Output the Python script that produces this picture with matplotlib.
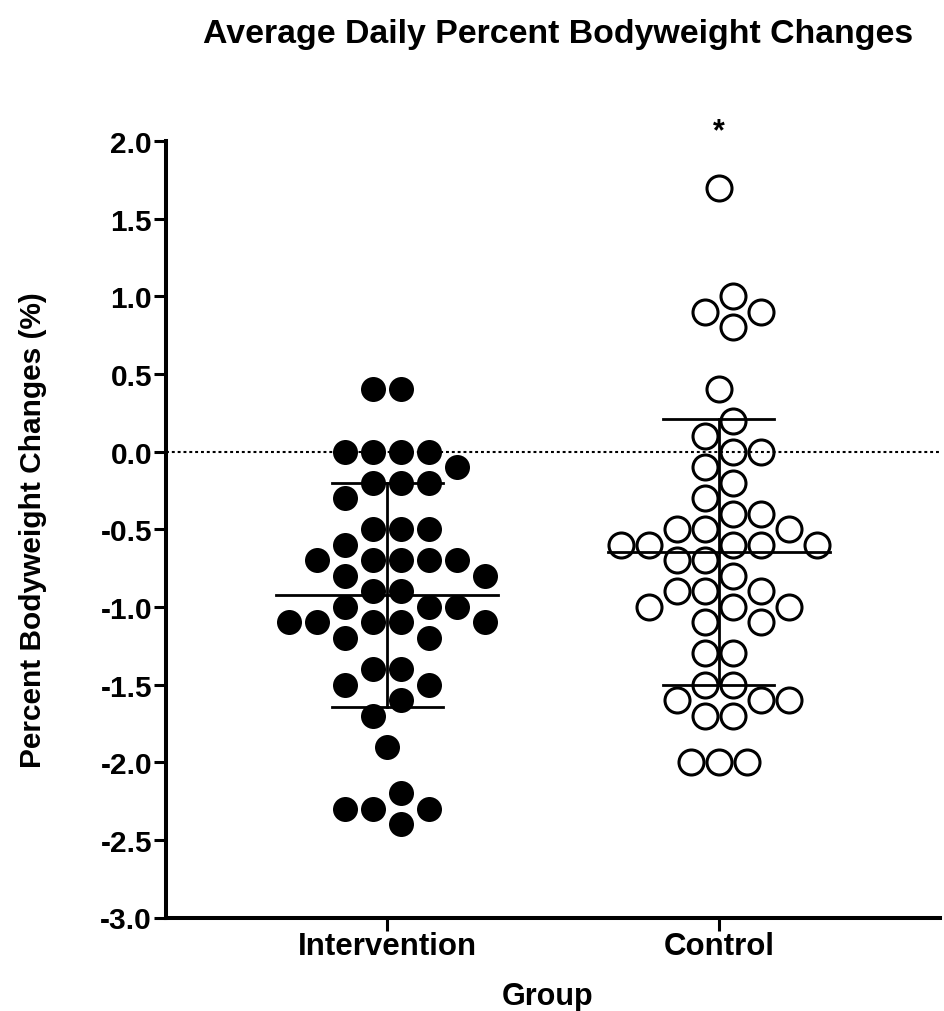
import numpy as np
import matplotlib
matplotlib.use('Agg')
import matplotlib.pyplot as plt
from matplotlib.ticker import FormatStrFormatter

plt.rcParams['font.family'] = 'Liberation Sans'
plt.rcParams['font.weight'] = 'bold'
plt.rcParams['axes.unicode_minus'] = False

# data (percent per day)
groups = ['Intervention', 'Control']
intervention = [0.4, 0.4,
                0.0, 0.0, 0.0, 0.0,
                -0.1,
                -0.2, -0.2, -0.2,
                -0.3,
                -0.5, -0.5, -0.5,
                -0.6,
                -0.7, -0.7, -0.7, -0.7, -0.7,
                -0.8, -0.8,
                -0.9, -0.9,
                -1.0, -1.0, -1.0,
                -1.1, -1.1, -1.1, -1.1, -1.1,
                -1.2, -1.2,
                -1.4, -1.4,
                -1.5, -1.5,
                -1.6,
                -1.7,
                -1.9,
                -2.2,
                -2.3, -2.3, -2.3,
                -2.4]
control = [1.7,
           1.0,
           0.9, 0.9,
           0.8,
           0.4,
           0.2,
           0.1,
           0.0, 0.0,
           -0.1,
           -0.2,
           -0.3,
           -0.4, -0.4,
           -0.5, -0.5, -0.5,
           -0.6, -0.6, -0.6, -0.6, -0.6,
           -0.7, -0.7,
           -0.8,
           -0.9, -0.9, -0.9,
           -1.0, -1.0, -1.0,
           -1.1, -1.1,
           -1.3, -1.3,
           -1.5, -1.5,
           -1.6, -1.6, -1.6,
           -1.7, -1.7,
           -2.0, -2.0, -2.0]
yticks = np.arange(-3.0, 2.01, 0.5)


def swarm(values, step=0.1):
    # simple grid swarm: each value sits in a row, points take the free
    # slot nearest the centre that is not used in the same or adjacent row
    rows = np.round(np.array(values) / step).astype(int)
    counts = {}
    for r in rows:
        counts[r] = counts.get(r, 0) + 1
    used = {}
    iso_seen = {}
    out = []
    cand = []
    for k in range(12):
        cand += [k + 0.5, -(k + 0.5)]
    for r in rows:
        if counts.get(r - 1, 0) == 0 and counts.get(r + 1, 0) == 0:
            i = iso_seen.get(r, 0)
            iso_seen[r] = i + 1
            out.append(i - (counts[r] - 1) / 2.0)
            continue
        blocked = used.get(r, set()) | used.get(r - 1, set()) | used.get(r + 1, set())
        for s in cand:
            if s not in blocked:
                break
        used.setdefault(r, set()).add(s)
        out.append(s)
    return np.array(out)


slot = 0.0843  # horizontal spacing of one dot in x units

fig = plt.figure(figsize=(9.45, 10.12), dpi=100)
ax = fig.add_axes([166 / 945, 1 - 918.5 / 1012, (940 - 166) / 945, (918.5 - 142) / 1012])

for i, vals in enumerate([intervention, control]):
    vals = np.array(vals)
    x = i + swarm(vals) * slot
    if i == 0:
        ax.plot(x, vals, 'o', ms=18, mfc='black', mec='black', mew=0, clip_on=False, zorder=3)
    else:
        ax.plot(x, vals, 'o', ms=18, mfc='none', mec='black', mew=2.2, clip_on=False, zorder=3)
    m = vals.mean()
    sd = vals.std(ddof=1)
    ax.plot([i - 0.334, i + 0.334], [m, m], color='black', lw=2, zorder=4)
    ax.plot([i - 0.167, i + 0.167], [m + sd, m + sd], color='black', lw=2, zorder=4)
    ax.plot([i - 0.167, i + 0.167], [m - sd, m - sd], color='black', lw=2, zorder=4)
    ax.plot([i, i], [m - sd, m + sd], color='black', lw=2, zorder=4)

ax.axhline(0, color='black', lw=1.5, dashes=(1.4, 1.4), zorder=2)
ax.text(1, 2.01, '*', ha='center', va='baseline', fontsize=22, fontweight='bold')

ax.set_xlim(-2 / 3, 5 / 3)
ax.set_ylim(-3, 2)
ax.set_xticks([0, 1])
ax.set_xticklabels(groups)
ax.set_yticks(yticks)
ax.yaxis.set_major_formatter(FormatStrFormatter('%.1f'))
ax.spines['top'].set_visible(False)
ax.spines['right'].set_visible(False)
ax.spines['left'].set_linewidth(2.9)
ax.spines['bottom'].set_linewidth(2.9)
ax.tick_params(axis='y', length=9, width=2.2, pad=1, labelsize=21.5)
ax.tick_params(axis='x', length=9, width=2.2, pad=1, labelsize=22.5)

fig.text(558 / 945, 1 - 43 / 1012, 'Average Daily Percent Bodyweight Changes',
         ha='center', va='baseline', fontsize=24.4, fontweight='bold')
fig.text(548 / 945, 1 - 1005 / 1012, 'Group', ha='center', va='baseline',
         fontsize=22, fontweight='bold')
fig.text(33 / 945, 1 - 530 / 1012, 'Percent Bodyweight Changes (%)', rotation=90,
         ha='center', va='center', fontsize=21.5, fontweight='bold')

fig.savefig('out.png', dpi=100)
